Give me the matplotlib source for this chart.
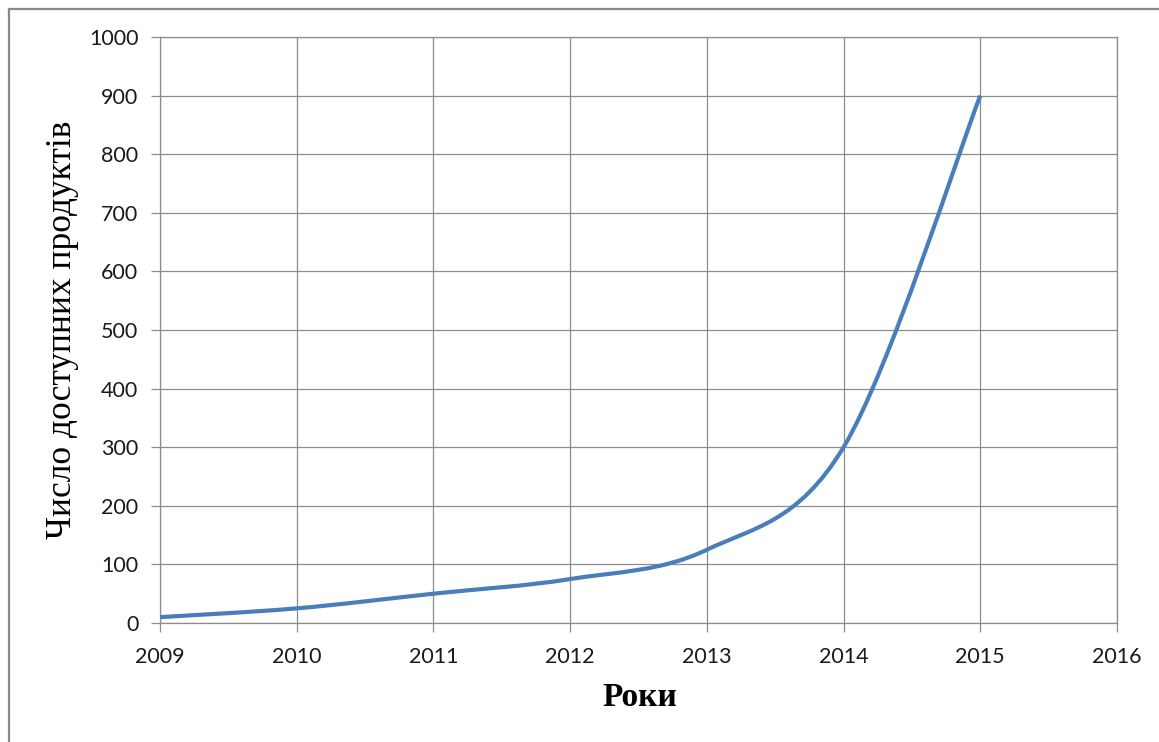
import matplotlib
matplotlib.use("Agg")
import matplotlib.pyplot as plt
from matplotlib.path import Path
from matplotlib.patches import PathPatch
from matplotlib.lines import Line2D

# Data
years = [2009, 2010, 2011, 2012, 2013, 2014, 2015]
products = [10, 25, 50, 75, 125, 300, 900]
x_ticks = [2009, 2010, 2011, 2012, 2013, 2014, 2015, 2016]
y_ticks = [0, 100, 200, 300, 400, 500, 600, 700, 800, 900, 1000]
x_title = "Роки"
y_title = "Число доступних продуктів"

W, H = 1159, 742
fig = plt.figure(figsize=(W / 100, H / 100), dpi=100)
ax = fig.add_axes([160 / W, 1 - 623 / H, (1117 - 160) / W, (623 - 37) / H])

grid_c = "#8c8c8c"
line_c = "#4a7ebb"

# Smooth (Excel-like) Bezier line through the data points
pts = list(zip(years, products))
n = len(pts)
verts = [pts[0]]
codes = [Path.MOVETO]
for i in range(n - 1):
    p0 = pts[i - 1] if i > 0 else pts[i]
    p1 = pts[i]
    p2 = pts[i + 1]
    p3 = pts[i + 2] if i + 2 < n else pts[i + 1]
    c1 = (p1[0] + (p2[0] - p0[0]) / 6, p1[1] + (p2[1] - p0[1]) / 6)
    c2 = (p2[0] - (p3[0] - p1[0]) / 6, p2[1] - (p3[1] - p1[1]) / 6)
    verts += [c1, c2, p2]
    codes += [Path.CURVE4] * 3
patch = PathPatch(Path(verts, codes), facecolor="none", edgecolor=line_c,
                  lw=3.0, capstyle="butt", joinstyle="round", zorder=3)
ax.add_patch(patch)

ax.set_xlim(2009, 2016)
ax.set_ylim(0, 1000)
ax.set_xticks(x_ticks)
ax.set_yticks(y_ticks)
ax.set_xticklabels([str(v) for v in x_ticks])
ax.set_yticklabels([str(v) for v in y_ticks])
ax.grid(True, color=grid_c, lw=0.9, zorder=1)
ax.set_axisbelow(True)
for s in ax.spines.values():
    s.set_color(grid_c)
    s.set_linewidth(0.9)
ax.tick_params(axis="both", direction="out", length=6.5, width=0.9, color=grid_c,
               labelsize=15.5, labelcolor="#1a1a1a")
ax.tick_params(axis="y", pad=9)
ax.tick_params(axis="x", pad=11)
for lab in ax.get_xticklabels() + ax.get_yticklabels():
    lab.set_fontfamily("Lato")

fig.text(640 / W, 1 - 697 / H, x_title, ha="center", va="center",
         fontsize=24, fontweight="bold", family="Liberation Serif")
fig.text(63 / W, 1 - 330 / H, y_title, ha="center", va="center", rotation=90,
         fontsize=25.5, family="Liberation Serif")

# Outer chart border (left and top visible)
fig.add_artist(Line2D([8.5 / W, 8.5 / W], [0, 1 - 9 / H], transform=fig.transFigure,
                      color="#888888", lw=1.6))
fig.add_artist(Line2D([8.5 / W, 1], [1 - 9 / H, 1 - 9 / H], transform=fig.transFigure,
                      color="#888888", lw=1.6))

fig.savefig("out.png", dpi=100)
